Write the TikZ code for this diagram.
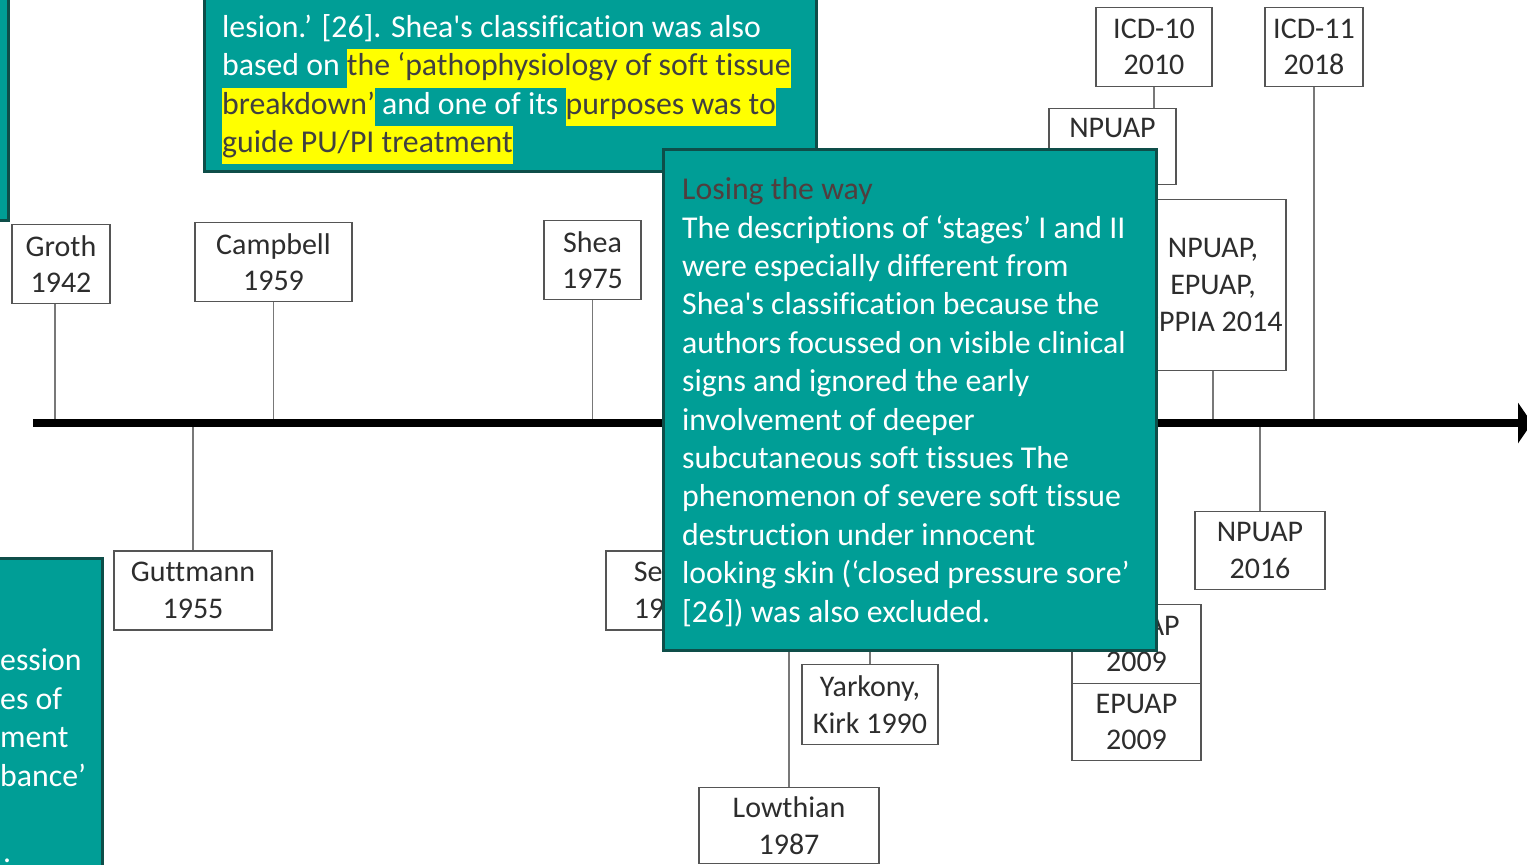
\documentclass[tikz,border=0pt]{standalone}
\usepackage{fontspec}
\setmainfont{Carlito}[Ligatures={TeXOff,NoCommon}]
\usetikzlibrary{arrows.meta}
\definecolor{tealfill}{RGB}{0,158,150}
\definecolor{tealedge}{RGB}{14,78,73}
\definecolor{hlyellow}{RGB}{255,255,0}
\definecolor{hltext}{RGB}{64,64,64}
\definecolor{titletext}{RGB}{80,62,62}
\definecolor{boxedge}{RGB}{85,85,85}
\definecolor{boxtext}{RGB}{45,45,45}
\definecolor{stemgray}{RGB}{120,120,120}
\newcommand{\hlmark}[1]{{\setlength{\fboxsep}{0pt}\colorbox{hlyellow}{\color{hltext}\strut #1}}}
\tikzset{
	node_year/.style = {
		rectangle,
		align=center,
		inner sep=0pt,
		draw=boxedge,
		line width=1.6pt,
		fill=white,
		text=boxtext,
		font=\fontsize{30}{36.6}\selectfont,
		minimum height=79pt
	},
	node_note/.style = {
		rectangle,
		inner sep=0pt,
		draw=tealedge,
		line width=3pt,
		fill=tealfill
	},
	node_text/.style = {
		align=left,
		inner sep=0pt,
		text=white,
		font=\fontsize{31.8}{38.4}\selectfont
	},
	line_stem/.style = {
		draw=stemgray,
		line width=1.6pt
	},
	line_axis/.style = {
		draw=black,
		line width=8pt,
		-{Triangle[length=14pt,width=40pt]}
	},
}
\begin{document}
\begin{tikzpicture}[x=1pt, y=-1pt]
\path[fill=white] (0,0) rectangle (1527,865);
\useasboundingbox (0,0) rectangle (1527,865);
\coordinate (axis_l) at (33,423);
\coordinate (axis_r) at (1532,423);
\coordinate (tick_groth) at (55,423);

\node [node_year, minimum width=98pt] (groth) at (61,264) {Groth\\1942};
\node [node_year, minimum width=157pt] (campbell) at (273.5,262) {Campbell\\1959};
\node [node_year, minimum width=97pt] (shea) at (592.5,260) {Shea\\1975};
\node [node_year, minimum width=158pt] (guttmann) at (193,590.5) {Guttmann\\1955};
\node [node_year, anchor=west, text width=112pt, inner xsep=28pt, align=left] (se) at (605,590.5) {Se\\19};
\node [node_year, minimum width=180pt, minimum height=76pt] (lowthian) at (789,825.5) {Lowthian\\1987};
\node [node_year, minimum width=136pt, minimum height=80pt] (yarkony) at (870,704.5) {Yarkony,\\Kirk 1990};
\node [node_year, minimum width=129pt] (npuap09) at (1136.5,644) {NPUAP\\2009};
\node [node_year, minimum width=129pt, minimum height=77pt] (epuap09) at (1136.5,722) {EPUAP\\2009};
\node [node_year, minimum width=130pt, minimum height=78pt] (npuap16) at (1260,550.5) {NPUAP\\2016};
\node [node_year, minimum width=146pt, minimum height=171pt] (npuap14) at (1213,285) {NPUAP,\\EPUAP,\\PPPIA 2014};
\node [node_year, minimum width=127pt, minimum height=76pt] (npuap_top) at (1112.5,146.5) {NPUAP\\\mbox{}};
\node [node_year, minimum width=116pt] (icd10) at (1154,47) {ICD-10\\2010};
\node [node_year, minimum width=98pt] (icd11) at (1314,47) {ICD-11\\2018};

\draw [line_stem] (tick_groth |- groth.south) -- (tick_groth);
\draw [line_stem] (campbell.south) -- (campbell |- axis_l);
\draw [line_stem] (shea.south) -- (shea |- axis_l);
\draw [line_stem] (guttmann.north) -- (guttmann |- axis_l);
\draw [line_stem] (lowthian.north) -- (lowthian |- axis_l);
\draw [line_stem] (yarkony.north) -- (yarkony |- axis_l);
\draw [line_stem] (npuap14.south) -- (npuap14 |- axis_l);
\draw [line_stem] (npuap16.north) -- (npuap16 |- axis_l);
\draw [line_stem] (icd11.south) -- (icd11 |- axis_l);
\draw [line_stem] (icd10.south) -- (icd10 |- npuap_top.north);
\draw [line_axis] (axis_l) -- (axis_r);

\node [node_note, minimum width=40pt, minimum height=240pt, anchor=south east] (note_left_top) at (10,222) {};
\node [node_note, minimum width=612pt, minimum height=220pt, anchor=south west] (note_top) at (203,173) {};
\node [node_note, minimum width=150pt, minimum height=340pt, anchor=north east] (note_left_bot) at (104,557) {};
\node [node_note, minimum width=493pt, minimum height=501pt, anchor=north west] (note_main) at (662,148) {};

\node [node_text, anchor=west] (note_top_text) at (222,87.5) {\strut lesion.’ [26]. Shea\textquotesingle s classification was also\\based on \hlmark{the ‘pathophysiology of soft tissue}\\\hlmark{breakdown’} and one of its \hlmark{purposes was to}\\\hlmark{guide PU/PI treatment}};
\node [node_text, anchor=west] (note_left_text) at (0,756) {ession\\es of\\ment\\bance’\\\mbox{}\\\hspace*{3pt}.};
\node [node_text, anchor=west] (note_main_text) at (682,402) {{\color{titletext}Losing the way}\\The descriptions of ‘stages’ I and II\\were especially different from\\Shea\textquotesingle s classification because the\\authors focussed on visible clinical\\signs and ignored the early\\involvement of deeper\\subcutaneous soft tissues The\\phenomenon of severe soft tissue\\destruction under innocent\\looking skin (‘closed pressure sore’\\{}[26]) was also excluded.};
\end{tikzpicture}
\end{document}
